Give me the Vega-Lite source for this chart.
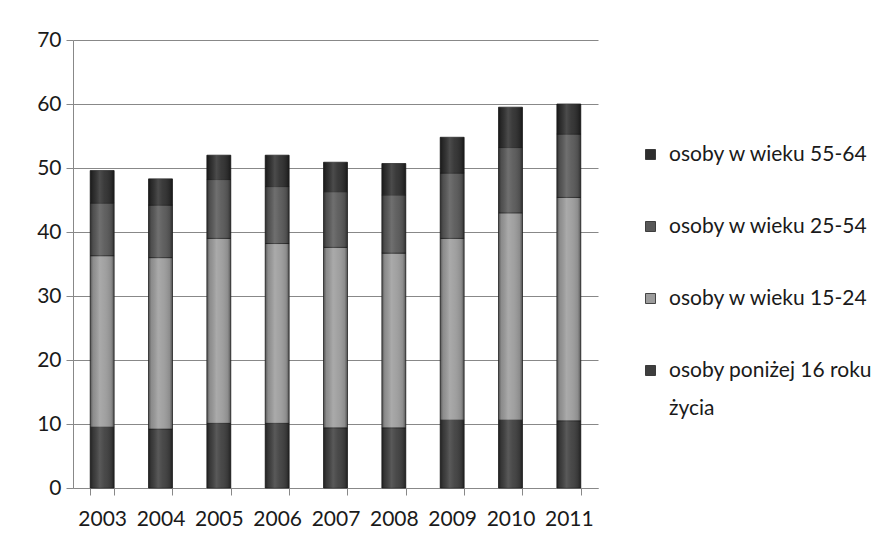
{
  "$schema": "https://vega.github.io/schema/vega-lite/v6.json",
  "width": 525,
  "height": 448,
  "autosize": "none",
  "padding": {"left": 73, "top": 40, "right": 298, "bottom": 55},
  "background": "white",
  "config": {
    "font": "Lato",
    "view": {"stroke": null},
    "axis": {"labelFont": "Lato", "labelColor": "#1a1a1a", "labelFontSize": 21, "domainColor": "#888", "tickColor": "#888", "gridColor": "#888", "gridWidth": 1}
  },
  "data": {
    "values": [
      {"year": "2003", "series": "osoby poniżej 16 roku życia", "value": 9.5},
      {"year": "2003", "series": "osoby w wieku 15-24", "value": 26.8},
      {"year": "2003", "series": "osoby w wieku 25-54", "value": 8.2},
      {"year": "2003", "series": "osoby w wieku 55-64", "value": 5.1},
      {"year": "2004", "series": "osoby poniżej 16 roku życia", "value": 9.2},
      {"year": "2004", "series": "osoby w wieku 15-24", "value": 26.8},
      {"year": "2004", "series": "osoby w wieku 25-54", "value": 8.2},
      {"year": "2004", "series": "osoby w wieku 55-64", "value": 4.1},
      {"year": "2005", "series": "osoby poniżej 16 roku życia", "value": 10.1},
      {"year": "2005", "series": "osoby w wieku 15-24", "value": 28.9},
      {"year": "2005", "series": "osoby w wieku 25-54", "value": 9.2},
      {"year": "2005", "series": "osoby w wieku 55-64", "value": 3.8},
      {"year": "2006", "series": "osoby poniżej 16 roku życia", "value": 10.1},
      {"year": "2006", "series": "osoby w wieku 15-24", "value": 28.1},
      {"year": "2006", "series": "osoby w wieku 25-54", "value": 8.9},
      {"year": "2006", "series": "osoby w wieku 55-64", "value": 4.9},
      {"year": "2007", "series": "osoby poniżej 16 roku życia", "value": 9.4},
      {"year": "2007", "series": "osoby w wieku 15-24", "value": 28.2},
      {"year": "2007", "series": "osoby w wieku 25-54", "value": 8.7},
      {"year": "2007", "series": "osoby w wieku 55-64", "value": 4.6},
      {"year": "2008", "series": "osoby poniżej 16 roku życia", "value": 9.4},
      {"year": "2008", "series": "osoby w wieku 15-24", "value": 27.3},
      {"year": "2008", "series": "osoby w wieku 25-54", "value": 9.1},
      {"year": "2008", "series": "osoby w wieku 55-64", "value": 4.9},
      {"year": "2009", "series": "osoby poniżej 16 roku życia", "value": 10.6},
      {"year": "2009", "series": "osoby w wieku 15-24", "value": 28.4},
      {"year": "2009", "series": "osoby w wieku 25-54", "value": 10.2},
      {"year": "2009", "series": "osoby w wieku 55-64", "value": 5.6},
      {"year": "2010", "series": "osoby poniżej 16 roku życia", "value": 10.6},
      {"year": "2010", "series": "osoby w wieku 15-24", "value": 32.4},
      {"year": "2010", "series": "osoby w wieku 25-54", "value": 10.2},
      {"year": "2010", "series": "osoby w wieku 55-64", "value": 6.3},
      {"year": "2011", "series": "osoby poniżej 16 roku życia", "value": 10.5},
      {"year": "2011", "series": "osoby w wieku 15-24", "value": 34.9},
      {"year": "2011", "series": "osoby w wieku 25-54", "value": 9.9},
      {"year": "2011", "series": "osoby w wieku 55-64", "value": 4.7}
    ]
  },
  "encoding": {
    "x": {
      "field": "year", "type": "ordinal", "title": null,
      "scale": {"paddingInner": 0.59, "paddingOuter": 0.295},
      "axis": {"labelAngle": 0, "tickBand": "extent", "tickSize": 7, "labelPadding": 13, "domainColor": "#888"}
    },
    "y": {
      "field": "value", "type": "quantitative", "aggregate": "sum", "title": null, "stack": "zero",
      "scale": {"domain": [0, 70]},
      "axis": {"values": [0, 10, 20, 30, 40, 50, 60, 70], "tickSize": 7, "labelPadding": 5, "grid": true, "domain": true}
    },
    "order": {"field": "series", "sort": "ascending"}
  },
  "layer": [
    {
      "mark": {"type": "bar", "stroke": "#262626", "strokeWidth": 0.8},
      "encoding": {
        "color": {
          "field": "series", "type": "nominal",
          "scale": {
            "domain": ["osoby w wieku 55-64", "osoby w wieku 25-54", "osoby w wieku 15-24", "osoby poniżej 16 roku życia"],
            "range": ["#2e2e2e", "#585858", "#9c9c9c", "#3e3e3e"]
          },
          "legend": {
            "title": null, "orient": "none", "legendX": 567, "legendY": 104,
            "symbolType": "square", "symbolSize": 100, "symbolStrokeColor": "#222", "symbolStrokeWidth": 0.8,
            "labelFont": "Lato", "labelFontSize": 21, "labelColor": "#1a1a1a", "labelLimit": 300,
            "rowPadding": 50, "labelOffset": 8, "symbolOffset": 0,
            "labelExpr": "datum.label == 'osoby poniżej 16 roku życia' ? ['osoby poniżej 16 roku', 'życia'] : datum.label",
            "encode": {"labels": {"update": {"lineHeight": {"value": 38}}}}
          }
        }
      }
    },
    {
      "mark": {
        "type": "bar",
        "fill": {
          "gradient": "linear", "x1": 0, "x2": 1, "y1": 0, "y2": 0,
          "stops": [
            {"offset": 0, "color": "rgba(0,0,0,0.45)"},
            {"offset": 0.12, "color": "rgba(0,0,0,0.1)"},
            {"offset": 0.4, "color": "rgba(255,255,255,0.14)"},
            {"offset": 0.6, "color": "rgba(255,255,255,0.06)"},
            {"offset": 0.88, "color": "rgba(0,0,0,0.1)"},
            {"offset": 1, "color": "rgba(0,0,0,0.45)"}
          ]
        }
      }
    }
  ]
}
